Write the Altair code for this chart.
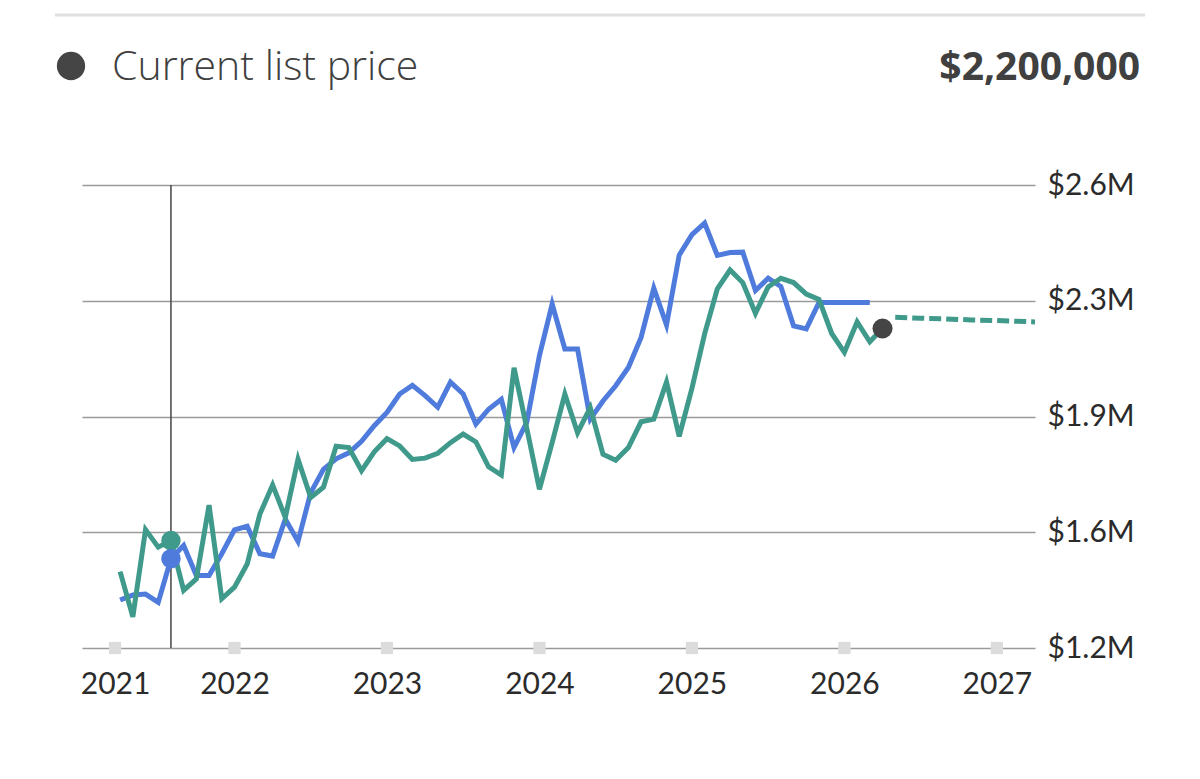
import altair as alt
import pandas as pd

# ---- data (values in millions of dollars, x = months since Jan 2021) ----
blue_months = list(range(3, 63))
blue_values = [1.345, 1.36, 1.363, 1.338, 1.47, 1.51, 1.419, 1.419, 1.485, 1.557,
               1.568, 1.485, 1.478, 1.59, 1.522, 1.67, 1.74, 1.772, 1.79, 1.825,
               1.872, 1.912, 1.968, 1.994, 1.963, 1.928, 2.004, 1.968, 1.877, 1.922,
               1.952, 1.806, 1.882, 2.084, 2.24, 2.104, 2.104, 1.892, 1.947, 1.993,
               2.048, 2.139, 2.288, 2.177, 2.388, 2.45, 2.485, 2.387, 2.396, 2.397,
               2.281, 2.318, 2.293, 2.174, 2.165, 2.245, 2.245, 2.245, 2.245, 2.245]

teal_months = list(range(3, 64))
teal_values = [1.431, 1.294, 1.558, 1.505, 1.525, 1.374, 1.409, 1.632, 1.349, 1.384,
               1.454, 1.605, 1.693, 1.595, 1.771, 1.655, 1.686, 1.81, 1.806, 1.736,
               1.793, 1.833, 1.811, 1.77, 1.774, 1.789, 1.821, 1.847, 1.823, 1.748,
               1.723, 2.047, 1.865, 1.68, 1.821, 1.968, 1.851, 1.927, 1.786, 1.768,
               1.806, 1.884, 1.892, 2.004, 1.84, 1.985, 2.15, 2.286, 2.343, 2.305,
               2.212, 2.292, 2.318, 2.305, 2.27, 2.254, 2.151, 2.094, 2.186, 2.126,
               2.166]

forecast_months = [64, 66, 68, 70, 72, 75]
forecast_values = [2.200, 2.197, 2.195, 2.192, 2.190, 2.186]

marker_month = [7]
marker_blue = [1.47]
marker_teal = [1.525]

current_month = [63]
current_value = [2.166]

x_tick_values = [2.6, 12, 24, 36, 48, 60, 72]
x_tick_labels = ["2021", "2022", "2023", "2024", "2025", "2026", "2027"]
y_tick_values = [1.2, 1.55, 1.9, 2.25, 2.6]
y_tick_labels = ["$1.2M", "$1.6M", "$1.9M", "$2.3M", "$2.6M"]

header_label = "Current list price"
header_value = "$2,200,000"

BLUE = "#4F7BDC"
TEAL = "#3F9A8B"
DARK = "#454545"
FONT = "Lato"
HFONT = "Open Sans"

W, H = 953, 463

def to_dollars(v):
    return [round(x * 1e6) for x in v]

blue_df = pd.DataFrame({"m": blue_months, "v": to_dollars(blue_values)})
teal_df = pd.DataFrame({"m": teal_months, "v": to_dollars(teal_values)})
fc_df = pd.DataFrame({"m": forecast_months, "v": to_dollars(forecast_values)})
mark_b = pd.DataFrame({"m": marker_month, "v": to_dollars(marker_blue)})
mark_t = pd.DataFrame({"m": marker_month, "v": to_dollars(marker_teal)})
cur_df = pd.DataFrame({"m": current_month, "v": to_dollars(current_value)})
tick_df = pd.DataFrame({"m": x_tick_values, "v": [to_dollars([y_tick_values[0]])[0]] * len(x_tick_values)})

y_vals_d = to_dollars(y_tick_values)

def label_expr(vals, labels):
    expr = "''"
    for v, l in reversed(list(zip(vals, labels))):
        expr = f"abs(datum.value - {v}) < 0.01 ? '{l}' : ({expr})"
    return expr

x_scale = alt.Scale(domain=[0, 75], nice=False, zero=False)
y_scale = alt.Scale(domain=[y_vals_d[0], y_vals_d[-1]], nice=False, zero=False)

x_enc = alt.X("m:Q", scale=x_scale,
              axis=alt.Axis(values=x_tick_values, labelExpr=label_expr(x_tick_values, x_tick_labels),
                            grid=False, domain=False, ticks=False, tickSize=0,
                            labelPadding=21, labelFontSize=30, labelFont=FONT,
                            labelColor="#2b2b2b", title=None, labelFlush=False))
y_enc = alt.Y("v:Q", scale=y_scale,
              axis=alt.Axis(orient="right", values=y_vals_d, labelExpr=label_expr(y_vals_d, y_tick_labels),
                            grid=True, gridColor="#9a9a9a", gridWidth=1.5,
                            domain=False, ticks=False, tickSize=0,
                            labelPadding=12, labelFontSize=30, labelFont=FONT,
                            labelColor="#2b2b2b", labelAlign="left", labelBaseline="middle",
                            title=None, labelFlush=False))

x_plain = alt.X("m:Q", scale=x_scale)
y_plain = alt.Y("v:Q", scale=y_scale)

base_axes = alt.Chart(blue_df).mark_line(opacity=0).encode(x=x_enc, y=y_enc)

squares = alt.Chart(tick_df).mark_square(size=150, color="#dcdcdc", opacity=1, clip=False).encode(
    x=x_plain, y=y_plain)

vrule = alt.Chart(pd.DataFrame({"m": marker_month})).mark_rule(color=DARK, strokeWidth=1.5).encode(
    x=x_plain)

blue_line = alt.Chart(blue_df).mark_line(color=BLUE, strokeWidth=5, strokeJoin="miter").encode(
    x=x_plain, y=y_plain)
teal_line = alt.Chart(teal_df).mark_line(color=TEAL, strokeWidth=5, strokeJoin="miter").encode(
    x=x_plain, y=y_plain)
fc_line = alt.Chart(fc_df).mark_line(color=TEAL, strokeWidth=5, strokeDash=[12, 5], clip=False).encode(
    x=x_plain, y=y_plain)

teal_dot = alt.Chart(mark_t).mark_circle(size=380, color=TEAL, opacity=1).encode(x=x_plain, y=y_plain)
blue_dot = alt.Chart(mark_b).mark_circle(size=380, color=BLUE, opacity=1).encode(x=x_plain, y=y_plain)
cur_dot = alt.Chart(cur_df).mark_circle(size=400, color=DARK, opacity=1).encode(x=x_plain, y=y_plain)

one = pd.DataFrame({"k": [0]})
top_line = alt.Chart(one).mark_rule(color="#e0e0e0", strokeWidth=3).encode(
    x=alt.value(-27), x2=alt.value(1063), y=alt.value(-170))
hdr_dot = alt.Chart(one).mark_circle(size=800, color=DARK, opacity=1).encode(
    x=alt.value(-11), y=alt.value(-119))
hdr_text = alt.Chart(one).mark_text(align="left", baseline="alphabetic", font=HFONT, fontSize=41,
                                    fontWeight=300, color="#404040").encode(
    x=alt.value(30), y=alt.value(-105), text=alt.value(header_label))
hdr_val = alt.Chart(one).mark_text(align="right", baseline="alphabetic", font=HFONT, fontSize=39,
                                   fontWeight="bold", color="#404040").encode(
    x=alt.value(1058), y=alt.value(-105), text=alt.value(header_value))

chart = alt.layer(
    base_axes, vrule, squares, blue_line, teal_line, fc_line, teal_dot, blue_dot, cur_dot,
    top_line, hdr_dot, hdr_text, hdr_val
).properties(
    width=W, height=H,
    background="white",
    autosize=alt.AutoSizeParams(type="none"),
    padding={"left": 74, "top": 177, "right": 150, "bottom": 120},
).configure_view(strokeWidth=0, stroke="transparent")

chart.save("out.html", embed_options={"renderer": "svg", "actions": False})
